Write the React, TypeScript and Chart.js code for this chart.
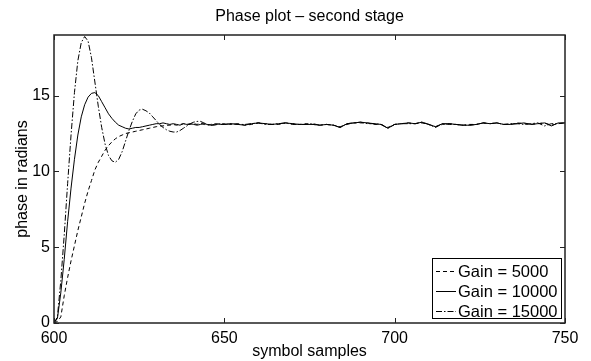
import { useEffect, useRef } from 'react';
import { Chart, registerables } from 'chart.js';

Chart.register(...registerables);

const FONT = '"Liberation Sans", Arial, Helvetica, sans-serif';

const TITLE = 'Phase plot – second stage';
const X_LABEL = 'symbol samples';
const Y_LABEL = 'phase in radians';

const X_TICKS = [600, 650, 700, 750];
const Y_TICKS = [0, 5, 10, 15];
const X_MIN = 600;
const X_MAX = 750;
const Y_MIN = 0;
const Y_MAX = 19;

const SERIES_LABELS = ['Gain = 5000', 'Gain = 10000', 'Gain = 15000'];

// sample positions: every sample 600..650, then every 2nd sample 652..750
const samples = [
  600, 601, 602, 603, 604, 605, 606, 607, 608, 609,
  610, 611, 612, 613, 614, 615, 616, 617, 618, 619,
  620, 621, 622, 623, 624, 625, 626, 627, 628, 629,
  630, 631, 632, 633, 634, 635, 636, 637, 638, 639,
  640, 641, 642, 643, 644, 645, 646, 647, 648, 649,
  650,
  652, 654, 656, 658, 660, 662, 664, 666, 668, 670,
  672, 674, 676, 678, 680, 682, 684, 686, 688, 690,
  692, 694, 696, 698, 700, 702, 704, 706, 708, 710,
  712, 714, 716, 718, 720, 722, 724, 726, 728, 730,
  732, 734, 736, 738, 740, 742, 744, 746, 748, 750,
];

const gain5000 = [
  0, 0.1, 0.4, 1.8, 3.0, 4.1, 5.1, 6.1, 7.0, 7.9,
  8.7, 9.4, 10.1, 10.6, 11.0, 11.4, 11.7, 11.95, 12.15, 12.3,
  12.4, 12.5, 12.55, 12.6, 12.65, 12.7, 12.75, 12.8, 12.85, 12.9,
  12.95, 13.0, 13.0, 13.05, 13.05, 13.1, 13.05, 13.1, 13.15, 13.1,
  13.1, 13.15, 13.1, 13.2, 13.1, 13.05, 13.1, 13.15, 13.1, 13.1,
  13.15,
  13.1, 13.15, 13.05, 13.1, 13.2, 13.15, 13.1, 13.1, 13.2, 13.15,
  13.1, 13.15, 13.1, 13.05, 13.1, 13.05, 12.95, 13.1, 13.2, 13.2,
  13.2, 13.1, 13.1, 12.9, 13.1, 13.15, 13.2, 13.15, 13.2, 13.1,
  12.95, 13.1, 13.15, 13.1, 13.05, 13.1, 13.1, 13.2, 13.15, 13.2,
  13.1, 13.1, 13.2, 13.15, 13.1, 13.15, 13.2, 13.05, 13.15, 13.2,
];

const gain10000 = [
  0, 0.3, 2.0, 4.2, 6.7, 8.9, 10.8, 12.4, 13.6, 14.4,
  14.9, 15.15, 15.2, 15.0, 14.6, 14.2, 13.8, 13.5, 13.25, 13.05,
  12.95, 12.85, 12.8, 12.85, 12.9, 12.9, 12.95, 13.0, 13.05, 13.1,
  13.15, 13.15, 13.2, 13.15, 13.1, 13.15, 13.1, 13.05, 13.15, 13.1,
  13.15, 13.1, 13.05, 13.1, 13.15, 13.1, 13.05, 13.1, 13.15, 13.1,
  13.1,
  13.15, 13.1, 13.05, 13.15, 13.2, 13.15, 13.1, 13.15, 13.2, 13.15,
  13.1, 13.1, 13.1, 13.05, 13.1, 13.05, 12.9, 13.15, 13.2, 13.25,
  13.2, 13.15, 13.1, 12.85, 13.1, 13.15, 13.2, 13.15, 13.25, 13.1,
  12.95, 13.15, 13.15, 13.1, 13.05, 13.05, 13.1, 13.2, 13.15, 13.2,
  13.1, 13.1, 13.15, 13.2, 13.1, 13.15, 13.2, 13.0, 13.2, 13.2,
];

const gain15000 = [
  0, 0.4, 2.8, 5.8, 9.2, 12.4, 15.2, 17.3, 18.5, 18.9,
  18.6, 17.5, 15.9, 14.3, 12.9, 11.8, 11.05, 10.7, 10.6, 10.8,
  11.3, 12.0, 12.7, 13.3, 13.8, 14.05, 14.1, 14.0, 13.85, 13.6,
  13.35, 13.1, 12.9, 12.75, 12.65, 12.6, 12.6, 12.7, 12.85, 13.0,
  13.15, 13.25, 13.3, 13.3, 13.2, 13.1, 13.05, 13.05, 13.1, 13.15,
  13.1,
  13.15, 13.1, 13.1, 13.15, 13.2, 13.1, 13.1, 13.15, 13.2, 13.1,
  13.1, 13.1, 13.15, 13.05, 13.1, 13.05, 12.9, 13.15, 13.2, 13.25,
  13.15, 13.15, 13.1, 12.85, 13.1, 13.15, 13.15, 13.15, 13.25, 13.1,
  12.9, 13.15, 13.1, 13.1, 13.05, 13.05, 13.1, 13.2, 13.15, 13.2,
  13.1, 13.15, 13.15, 13.1, 13.15, 13.2, 13.0, 13.15, 13.15, 13.2,
];

const SERIES = [gain5000, gain10000, gain15000];
const DASHES: number[][] = [[4, 3], [], [6, 2, 1.5, 2]];

const matlabPlugin = {
  id: 'matlabFrame',
  beforeDraw(chart: any) {
    const { ctx } = chart;
    ctx.save();
    ctx.fillStyle = '#ffffff';
    ctx.fillRect(0, 0, chart.width, chart.height);
    ctx.restore();
  },
  afterDraw(chart: any) {
    const { ctx, chartArea } = chart;
    const { left, right, top, bottom } = chartArea;
    const xs = chart.scales.x;
    const ys = chart.scales.y;
    ctx.save();
    // frame
    ctx.strokeStyle = '#222';
    ctx.lineWidth = 1.5;
    ctx.setLineDash([]);
    ctx.strokeRect(left, top, right - left, bottom - top);
    // inward ticks on all sides
    const tl = 5;
    ctx.lineWidth = 1;
    ctx.beginPath();
    X_TICKS.forEach((v) => {
      const px = Math.round(xs.getPixelForValue(v)) + 0.5;
      ctx.moveTo(px, bottom);
      ctx.lineTo(px, bottom - tl);
      ctx.moveTo(px, top);
      ctx.lineTo(px, top + tl);
    });
    Y_TICKS.forEach((v) => {
      const py = Math.round(ys.getPixelForValue(v)) + 0.5;
      ctx.moveTo(left, py);
      ctx.lineTo(left + tl, py);
      ctx.moveTo(right, py);
      ctx.lineTo(right - tl, py);
    });
    ctx.stroke();

    // titles
    ctx.fillStyle = '#000';
    ctx.font = `16px ${FONT}`;
    ctx.textAlign = 'center';
    ctx.textBaseline = 'alphabetic';
    ctx.fillText(TITLE, (left + right) / 2, top - 14.5);
    ctx.fillText(X_LABEL, (left + right) / 2, chart.height - 5);
    ctx.save();
    ctx.translate(26.5, (top + bottom) / 2);
    ctx.rotate(-Math.PI / 2);
    ctx.fillText(Y_LABEL, 0, 0);
    ctx.restore();

    // legend
    const bx1 = right - 3;
    const by2 = bottom - 4;
    const bx0 = bx1 - 130;
    const by0 = by2 - 61;
    ctx.fillStyle = '#fff';
    ctx.fillRect(bx0, by0, bx1 - bx0, by2 - by0);
    ctx.strokeStyle = '#000';
    ctx.lineWidth = 1;
    ctx.strokeRect(bx0 + 0.5, by0 + 0.5, bx1 - bx0 - 1, by2 - by0 - 1);
    ctx.textAlign = 'left';
    ctx.textBaseline = 'middle';
    ctx.font = `16.5px ${FONT}`;
    chart.data.datasets.forEach((ds: any, i: number) => {
      const ry = Math.round(by0 + 13 + i * 20) + 0.5;
      ctx.beginPath();
      ctx.setLineDash(DASHES[i]);
      ctx.moveTo(bx0 + 4, ry);
      ctx.lineTo(bx0 + 24, ry);
      ctx.strokeStyle = '#000';
      ctx.stroke();
      ctx.setLineDash([]);
      ctx.fillStyle = '#000';
      ctx.fillText(ds.label, bx0 + 26, ry + 1);
    });
    ctx.restore();
  },
};

export default function App() {
  const ref = useRef<HTMLCanvasElement | null>(null);

  useEffect(() => {
    if (!ref.current) return;
    const datasets = SERIES.map((vals, i) => ({
      label: SERIES_LABELS[i],
      data: samples.map((x, j) => ({ x, y: vals[j] })),
      borderColor: '#000',
      borderWidth: 1,
      borderDash: DASHES[i],
      pointRadius: 0,
      tension: 0,
      fill: false,
    }));
    const chart = new Chart(ref.current, {
      type: 'line',
      data: { datasets },
      options: {
        animation: false,
        responsive: false,
        maintainAspectRatio: false,
        parsing: false,
        layout: { padding: { top: 35, right: 26, left: 0, bottom: 0 } },
        plugins: {
          legend: { display: false },
          title: { display: false },
          tooltip: { enabled: false },
        },
        scales: {
          x: {
            type: 'linear',
            min: X_MIN,
            max: X_MAX,
            grid: { display: false, drawTicks: false },
            border: { display: false },
            ticks: {
              color: '#000',
              font: { family: FONT, size: 16 },
              padding: 6,
              maxRotation: 0,
              autoSkip: false,
            },
            afterBuildTicks: (s: any) => {
              s.ticks = X_TICKS.map((v) => ({ value: v }));
            },
            afterFit: (s: any) => {
              s.height = 38;
              s.paddingLeft = 0;
              s.paddingRight = 0;
            },
          },
          y: {
            type: 'linear',
            min: Y_MIN,
            max: Y_MAX,
            grid: { display: false, drawTicks: false },
            border: { display: false },
            ticks: {
              color: '#000',
              font: { family: FONT, size: 16 },
              padding: 4,
              autoSkip: false,
            },
            afterBuildTicks: (s: any) => {
              s.ticks = Y_TICKS.map((v) => ({ value: v }));
            },
            afterFit: (s: any) => {
              s.width = 54;
              s.paddingTop = 0;
              s.paddingBottom = 0;
            },
          },
        },
      },
      plugins: [matlabPlugin],
    } as any);
    return () => chart.destroy();
  }, []);

  return (
    <div style={{ position: 'absolute', left: 0, top: 0, width: 591, height: 361 }}>
      <canvas ref={ref} width={591} height={361} style={{ display: 'block' }} />
    </div>
  );
}
